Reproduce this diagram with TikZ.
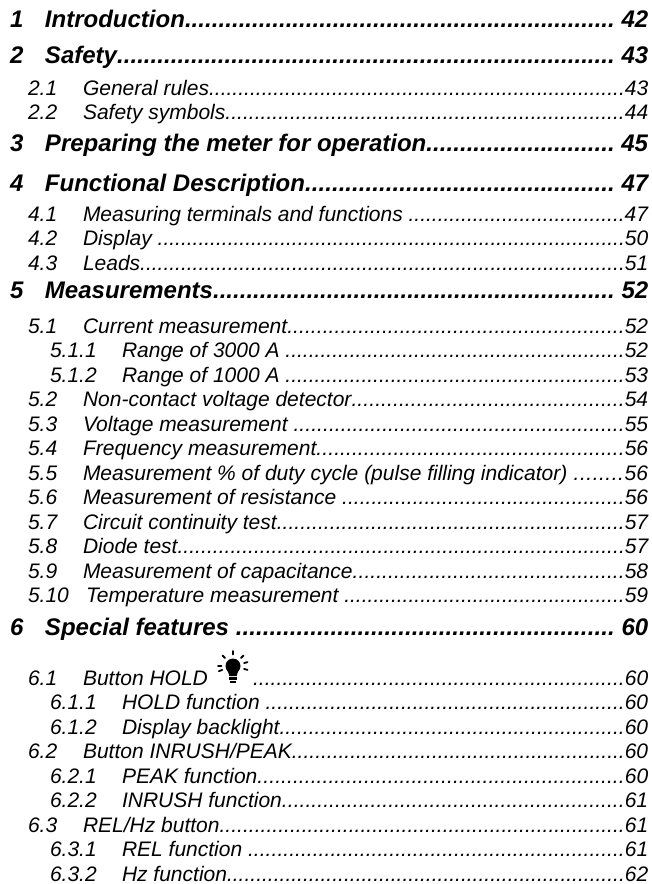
\documentclass[tikz,border=0pt]{standalone}
\usepackage{fontspec}
\setmainfont{Liberation Sans}
\tikzset{
  every node/.style={inner sep=0pt, outer sep=0pt},
  lvA/.style={font=\fontsize{24}{26}\selectfont\bfseries\itshape, anchor=base west},
  lvB/.style={font=\fontsize{21}{23}\selectfont\itshape, anchor=base west},
  ray/.style={line width=1.8pt, line cap=round},
}
% name, y, number, title, page
\newcommand\tocA[5]{%
  \node[lvA] (#1n) at (10,#2) {#3};
  \node[lvA] (#1t) at (45,#2) {\hbox to 603pt{#4\xleaders\hbox{.}\hfill\ #5}};}
% name, y, number x, title x, number, title, page
\newcommand\tocB[7]{%
  \node[lvB] (#1n) at (#3,#2) {#5};
  \node[lvB] (#1t) at (#4,#2) {\hbox to \dimexpr648pt-#4pt\relax{#6\xleaders\hbox{.}\hfill#7}};}
\begin{document}
\begin{tikzpicture}[x=1pt,y=-1pt]
\useasboundingbox[fill=white] (0,0) rectangle (652,884);
\tocA{a}{27}{1}{Introduction}{42}
\tocA{b}{63}{2}{Safety}{43}
\tocB{ba}{95}{28}{83}{2.1}{General rules}{43}
\tocB{bb}{119.5}{28}{83}{2.2}{Safety symbols}{44}
\tocA{c}{151}{3}{Preparing the meter for operation}{45}
\tocA{d}{191}{4}{Functional Description}{47}
\tocB{da}{221}{28}{83}{4.1}{Measuring terminals and functions }{47}
\tocB{db}{245.5}{28}{83}{4.2}{Display }{50}
\tocB{dc}{270}{28}{83}{4.3}{Leads}{51}
\tocA{e}{298}{5}{Measurements}{52}
\tocB{ea}{333}{28}{83}{5.1}{Current measurement}{52}
\tocB{eaa}{357.5}{50}{122}{5.1.1}{Range of 3000 A }{52}
\tocB{eab}{382}{50}{122}{5.1.2}{Range of 1000 A }{53}
\tocB{eb}{406.5}{28}{83}{5.2}{Non-contact voltage detector}{54}
\tocB{ec}{431}{28}{83}{5.3}{Voltage measurement }{55}
\tocB{ed}{455.5}{28}{83}{5.4}{Frequency measurement}{56}
\tocB{ee}{480}{28}{83}{5.5}{Measurement \% of duty cycle (pulse filling indicator) }{56}
\tocB{ef}{504.5}{28}{83}{5.6}{Measurement of resistance }{56}
\tocB{eg}{529}{28}{83}{5.7}{Circuit continuity test}{57}
\tocB{eh}{553.5}{28}{83}{5.8}{Diode test}{57}
\tocB{ei}{578}{28}{83}{5.9}{Measurement of capacitance}{58}
\tocB{ej}{602.5}{28}{86}{5.10}{Temperature measurement }{59}
\tocA{f}{635}{6}{Special features }{60}
\node[lvB] (fan) at (28,685) {6.1};
\node[lvB] (fat) at (83,685) {\hbox to 565pt{\hbox to 170pt{Button HOLD\hfil}\xleaders\hbox{.}\hfill60}};
\begin{scope}[shift={(233,666)}]
  \fill (0,0) circle (7.5);
  \fill (-5.5,4) -- (5.5,4) -- (3.6,10) -- (-3.6,10) -- cycle;
  \fill (-3.6,11) rectangle (3.6,13.5);
  \fill (-2.6,14.5) rectangle (2.6,17);
  \foreach \a in {180,160,-135,-90,-45,-15,15}
    \draw[ray] (\a:11.5) -- (\a:15);
\end{scope}
\tocB{faa}{709.5}{50}{122}{6.1.1}{HOLD function }{60}
\tocB{fab}{734}{50}{122}{6.1.2}{Display backlight}{60}
\tocB{fb}{758.5}{28}{83}{6.2}{Button INRUSH/PEAK}{60}
\tocB{fba}{783}{50}{122}{6.2.1}{PEAK function}{60}
\tocB{fbb}{807.5}{50}{122}{6.2.2}{INRUSH function}{61}
\tocB{fc}{832}{28}{83}{6.3}{REL/Hz button}{61}
\tocB{fca}{856.5}{50}{122}{6.3.1}{REL function }{61}
\tocB{fcb}{881}{50}{122}{6.3.2}{Hz function}{62}
\end{tikzpicture}
\end{document}
